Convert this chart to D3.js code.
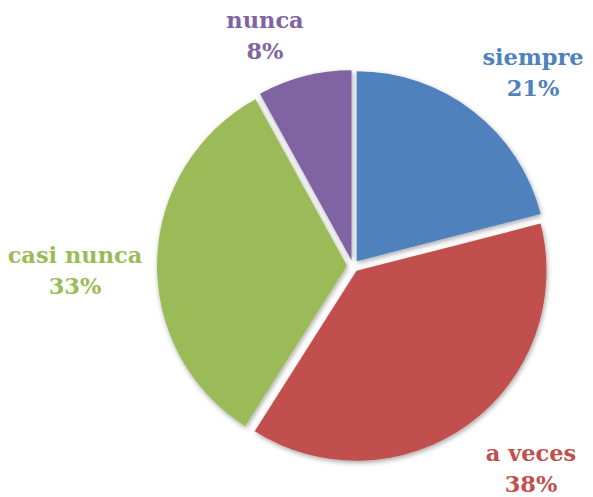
<!DOCTYPE html>
<html><head><meta charset="utf-8">
<script src="https://cdnjs.cloudflare.com/ajax/libs/d3/7.8.5/d3.min.js"></script>
<style>html,body{margin:0;padding:0;background:#fff;}</style>
</head><body>
<script>
const categories = ["siempre", "a veces", "casi nunca", "nunca"];
const values = [21, 38, 33, 8];
const colors = ["#4F81BD", "#C0504D", "#9BBB59", "#8064A2"];
const labelPos = [[533, 57], [531, 453], [75, 255], [265, 20]];

const W = 593, H = 497;
const cx = 353, cy = 266, r = 190, explode = 6;
const svg = d3.select("body").append("svg").attr("width", W).attr("height", H);
const defs = svg.append("defs");
const f = defs.append("filter").attr("id", "sh").attr("x", "-20%").attr("y", "-20%").attr("width", "140%").attr("height", "140%");
f.append("feDropShadow").attr("dx", 1).attr("dy", 2).attr("stdDeviation", 2.5).attr("flood-color", "#000").attr("flood-opacity", 0.35);

const pie = d3.pie().sort(null).value(d => d)(values);
const arc = d3.arc().innerRadius(0).outerRadius(r);
const g = svg.append("g").attr("transform", `translate(${cx},${cy})`);
g.selectAll("path").data(pie).join("path")
  .attr("d", arc)
  .attr("fill", (d, i) => colors[i])
  .attr("filter", "url(#sh)")
  .attr("transform", d => {
    const a = (d.startAngle + d.endAngle) / 2;
    return `translate(${explode * Math.sin(a)},${-explode * Math.cos(a)})`;
  });

const lab = svg.append("g").attr("font-family", "'DejaVu Serif', serif").attr("font-weight", "bold").attr("font-size", 22.5).attr("text-anchor", "middle");
categories.forEach((c, i) => {
  const t = lab.append("text").attr("x", labelPos[i][0]).attr("y", labelPos[i][1]).attr("fill", colors[i]);
  t.append("tspan").attr("x", labelPos[i][0]).attr("dy", "0.35em").text(c);
  t.append("tspan").attr("x", labelPos[i][0]).attr("dy", "1.4em").text(values[i] + "%");
});
</script>
</body></html>
